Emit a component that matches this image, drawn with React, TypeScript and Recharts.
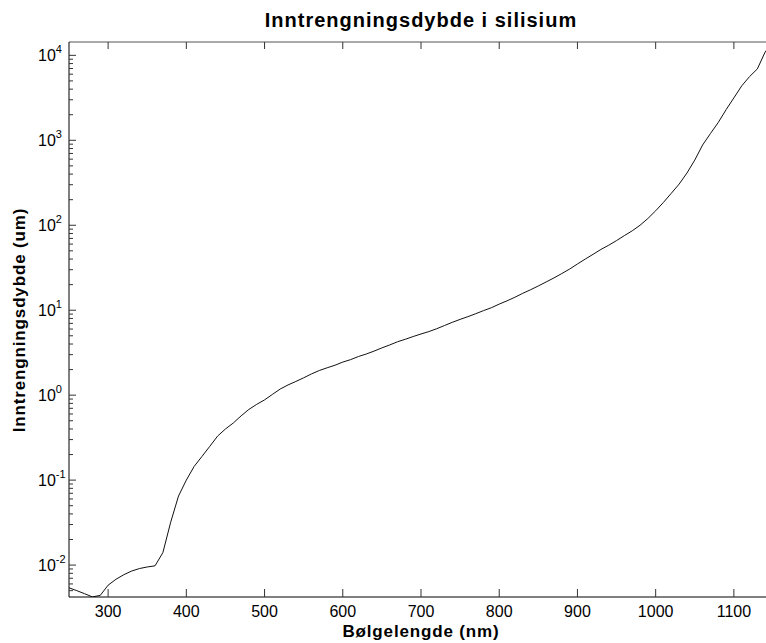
import React from 'react';
import { LineChart, Line, XAxis, YAxis } from 'recharts';

const WAVELENGTH = [
  250, 260, 270, 280, 290, 300, 310, 320, 330, 340, 350, 360, 370, 380, 390,
  400, 410, 420, 430, 440, 450, 460, 470, 480, 490, 500, 510, 520, 530, 540,
  550, 560, 570, 580, 590, 600, 610, 620, 630, 640, 650, 660, 670, 680, 690,
  700, 710, 720, 730, 740, 750, 760, 770, 780, 790, 800, 810, 820, 830, 840,
  850, 860, 870, 880, 890, 900, 910, 920, 930, 940, 950, 960, 970, 980, 990,
  1000, 1010, 1020, 1030, 1040, 1050, 1060, 1070, 1080, 1090, 1100, 1110, 1120,
  1130, 1140, 1150,
];

const DEPTH = [
  0.0054, 0.005, 0.0046, 0.00422, 0.0044, 0.0058, 0.0068, 0.0077, 0.0085, 0.0091,
  0.0095, 0.0098, 0.014, 0.032, 0.065,
  0.1, 0.145, 0.19, 0.25, 0.33, 0.4, 0.47, 0.57, 0.68, 0.78, 0.88, 1.02, 1.18, 1.32, 1.45,
  1.6, 1.78, 1.95, 2.1, 2.25, 2.45, 2.62, 2.85, 3.05, 3.3, 3.6, 3.9, 4.25, 4.55, 4.9,
  5.25, 5.6, 6.05, 6.6, 7.2, 7.8, 8.4, 9.1, 9.9, 10.7, 11.8, 12.9, 14.2, 15.8, 17.4,
  19.3, 21.5, 24.0, 27.0, 30.5, 35, 40, 45.5, 51.9, 58.2, 66, 75.5, 86, 100, 120,
  148, 186, 238, 305, 412, 585, 880, 1200, 1620, 2290, 3160, 4370, 5620,
  6920, 10960, 14350,
];

const X_TICKS = [300, 400, 500, 600, 700, 800, 900, 1000, 1100];
const X_DOMAIN = [250, 1150];
const Y_DOMAIN = [0.00421, 14355];
const DECADE_EXPONENTS = [-3, -2, -1, 0, 1, 2, 3, 4];
const MANTISSAS = [1, 2, 3, 4, 5, 6, 7, 8, 9];

const TITLE = 'Inntrengningsdybde i silisium';
const X_LABEL = 'Bølgelengde (nm)';
const Y_LABEL = 'Inntrengningsdybde (um)';

const data = WAVELENGTH.map((w, i) => ({ wl: w, d: DEPTH[i] }));

const Y_TICKS: number[] = [];
DECADE_EXPONENTS.forEach((k) => {
  MANTISSAS.forEach((m) => {
    const v = parseFloat((m * Math.pow(10, k)).toPrecision(6));
    if (v >= Y_DOMAIN[0] && v <= Y_DOMAIN[1]) Y_TICKS.push(v);
  });
});

const FONT = '"Liberation Sans", Arial, Helvetica, sans-serif';
const AXIS_COLOR = '#000';
const TICK_COLOR = '#333';

const isMajor = (v: number) => {
  const l = Math.log10(v);
  return Math.abs(l - Math.round(l)) < 1e-6;
};

const LeftTick = (props: any) => {
  const { x, y, payload } = props;
  const v = payload.value as number;
  const major = isMajor(v);
  const exp = Math.round(Math.log10(v));
  return (
    <g>
      <line x1={x} x2={x + (major ? 7 : 4)} y1={y} y2={y} stroke={TICK_COLOR} strokeWidth={1} />
      {major && (
        <text x={x - 31} y={y + 6} textAnchor="start" fontFamily={FONT} fontSize={16} fill="#000">
          10
          <tspan dy={-8.5} fontSize={11}>{String(exp)}</tspan>
        </text>
      )}
    </g>
  );
};

const RightTick = (props: any) => {
  const { x, y, payload } = props;
  const v = payload.value as number;
  const major = isMajor(v);
  return <line x1={x} x2={x - (major ? 7 : 4)} y1={y} y2={y} stroke={TICK_COLOR} strokeWidth={1} />;
};

// bottom axis: tick line drawn by recharts with a negative (inward) size of 8px,
// so the tick props y sits 8px above the axis line
const BottomTick = (props: any) => {
  const { x, y, payload } = props;
  return (
    <text x={x} y={y + 28} textAnchor="middle" fontFamily={FONT} fontSize={16} fill="#000">
      {String(payload.value)}
    </text>
  );
};

const TopTick = (props: any) => {
  const { x, y } = props;
  return <line x1={x} x2={x} y1={y} y2={y + 7} stroke={TICK_COLOR} strokeWidth={1} />;
};

export default function App() {
  return (
    <div style={{ position: 'fixed', top: 0, left: 0, width: 766, height: 643, overflow: 'hidden', background: '#fff' }}>
      <LineChart width={781} height={643} data={data} margin={{ top: 41, right: 7, left: 0, bottom: 0 }}>
        <XAxis
          xAxisId="bottom"
          dataKey="wl"
          type="number"
          orientation="bottom"
          domain={X_DOMAIN}
          allowDataOverflow
          ticks={X_TICKS}
          interval={0}
          height={46}
          tickSize={-8}
          tickMargin={0}
          tickLine={{ stroke: TICK_COLOR, strokeWidth: 1 }}
          axisLine={{ stroke: AXIS_COLOR }}
          tick={BottomTick}
        />
        <XAxis xAxisId="top" dataKey="wl" type="number" orientation="top" domain={X_DOMAIN} allowDataOverflow ticks={X_TICKS} interval={0} height={1} tickSize={0} tickMargin={0} tickLine={false} axisLine={{ stroke: '#555' }} tick={TopTick} />
        <YAxis yAxisId="left" type="number" scale="log" orientation="left" domain={Y_DOMAIN} allowDataOverflow ticks={Y_TICKS} interval={0} width={69} tickSize={0} tickMargin={0} tickLine={false} axisLine={{ stroke: AXIS_COLOR }} tick={LeftTick} />
        <YAxis yAxisId="right" type="number" scale="log" orientation="right" domain={Y_DOMAIN} allowDataOverflow ticks={Y_TICKS} interval={0} width={1} tickSize={0} tickMargin={0} tickLine={false} axisLine={{ stroke: '#555' }} tick={RightTick} />
        <Line xAxisId="bottom" yAxisId="left" type="linear" dataKey="d" stroke="#111" strokeWidth={1} dot={false} activeDot={false} isAnimationActive={false} />
        <Line xAxisId="top" yAxisId="right" type="linear" dataKey="d" stroke="none" dot={false} activeDot={false} isAnimationActive={false} />
      </LineChart>
      <svg width={766} height={643} style={{ position: 'absolute', top: 0, left: 0, pointerEvents: 'none' }}>
        <text x={421} y={26.5} textAnchor="middle" fontFamily={FONT} fontWeight="bold" fontSize={20} letterSpacing={1} fill="#000">{TITLE}</text>
        <text x={421} y={637} textAnchor="middle" fontFamily={FONT} fontWeight="bold" fontSize={17} letterSpacing={0.85} fill="#000">{X_LABEL}</text>
        <text x={25} y={320} textAnchor="middle" transform="rotate(-90 25 320)" fontFamily={FONT} fontWeight="bold" fontSize={17} letterSpacing={0.85} fill="#000">{Y_LABEL}</text>
      </svg>
    </div>
  );
}
